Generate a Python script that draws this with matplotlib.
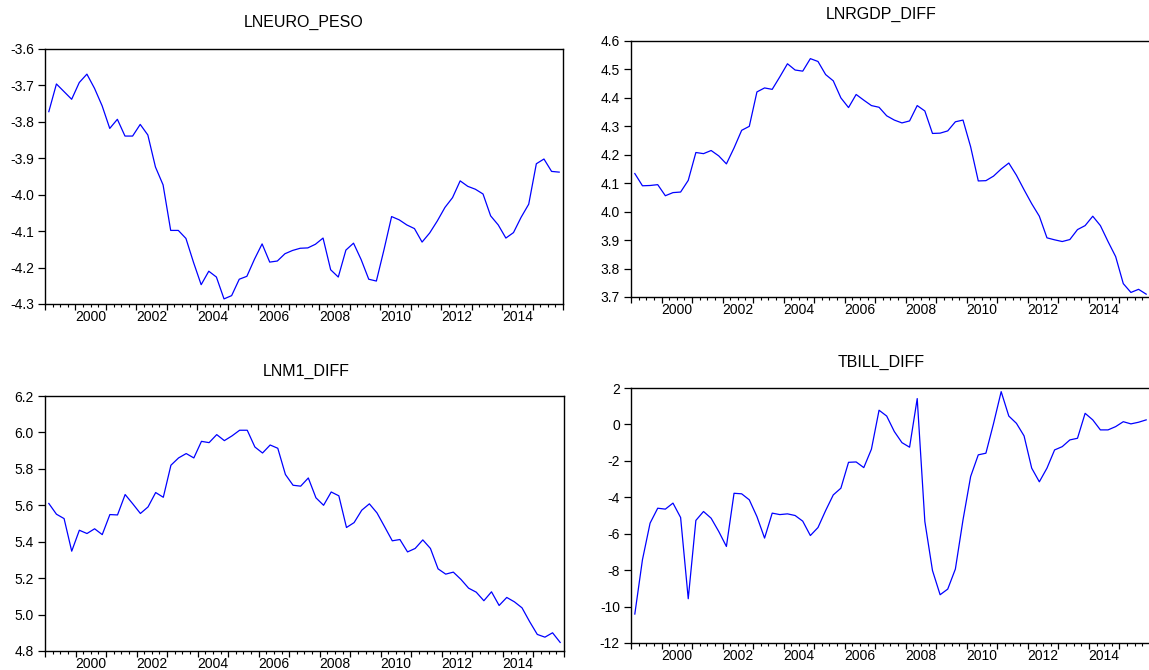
import matplotlib
matplotlib.use("Agg")
import matplotlib.pyplot as plt
import numpy as np
import pandas as pd

plt.rcParams['font.family'] = ['Liberation Sans', 'DejaVu Sans']

# quarterly sample 1999Q1 - 2015Q4
quarters = pd.period_range('1999Q1', '2015Q4', freq='Q')
t = quarters.year + (quarters.quarter - 0.5) / 4.0

lneuro_peso = [-3.772, -3.696, -3.717, -3.738, -3.692, -3.669, -3.708, -3.756,
               -3.818, -3.793, -3.839, -3.839, -3.807, -3.836, -3.924, -3.973,
               -4.098, -4.098, -4.120, -4.186, -4.247, -4.210, -4.226, -4.286,
               -4.277, -4.232, -4.224, -4.177, -4.135, -4.185, -4.182, -4.162,
               -4.153, -4.147, -4.146, -4.136, -4.119, -4.206, -4.226, -4.152,
               -4.133, -4.178, -4.232, -4.237, -4.151, -4.060, -4.069, -4.083,
               -4.093, -4.130, -4.105, -4.072, -4.035, -4.008, -3.962, -3.977,
               -3.985, -3.998, -4.058, -4.083, -4.119, -4.104, -4.062, -4.026,
               -3.915, -3.902, -3.936, -3.938]

lnrgdp_diff = [4.134, 4.091, 4.092, 4.095, 4.056, 4.067, 4.069, 4.110,
               4.208, 4.204, 4.215, 4.196, 4.168, 4.224, 4.286, 4.300,
               4.421, 4.435, 4.430, 4.474, 4.520, 4.498, 4.494, 4.538,
               4.528, 4.482, 4.460, 4.400, 4.366, 4.412, 4.392, 4.373,
               4.367, 4.337, 4.322, 4.312, 4.319, 4.373, 4.354, 4.275,
               4.276, 4.284, 4.316, 4.322, 4.228, 4.108, 4.109, 4.125,
               4.150, 4.171, 4.128, 4.077, 4.028, 3.984, 3.908, 3.901,
               3.895, 3.902, 3.937, 3.951, 3.984, 3.951, 3.895, 3.842,
               3.747, 3.716, 3.727, 3.710]

lnm1_diff = [5.610, 5.551, 5.527, 5.348, 5.463, 5.445, 5.471, 5.439,
             5.549, 5.547, 5.659, 5.608, 5.555, 5.591, 5.670, 5.644,
             5.820, 5.860, 5.884, 5.860, 5.951, 5.944, 5.988, 5.955,
             5.981, 6.012, 6.012, 5.920, 5.887, 5.931, 5.913, 5.769,
             5.710, 5.705, 5.750, 5.641, 5.600, 5.673, 5.652, 5.478,
             5.505, 5.573, 5.608, 5.558, 5.482, 5.405, 5.412, 5.344,
             5.363, 5.410, 5.363, 5.251, 5.222, 5.233, 5.193, 5.145,
             5.123, 5.076, 5.125, 5.050, 5.094, 5.070, 5.037, 4.961,
             4.891, 4.876, 4.900, 4.847]

tbill_diff = [-10.41, -7.43, -5.42, -4.60, -4.65, -4.32, -5.11, -9.57,
              -5.27, -4.78, -5.15, -5.88, -6.70, -3.78, -3.81, -4.14,
              -5.06, -6.24, -4.87, -4.95, -4.91, -5.00, -5.31, -6.10,
              -5.66, -4.73, -3.87, -3.50, -2.08, -2.06, -2.37, -1.36,
              0.78, 0.46, -0.39, -1.00, -1.25, 1.42, -5.33, -8.02,
              -9.35, -9.04, -7.94, -5.24, -2.86, -1.67, -1.58, 0.05,
              1.80, 0.46, 0.06, -0.63, -2.40, -3.15, -2.40, -1.40,
              -1.22, -0.85, -0.76, 0.61, 0.25, -0.30, -0.30, -0.12,
              0.15, 0.03, 0.12, 0.25]

titles = ['LNEURO_PESO', 'LNRGDP_DIFF', 'LNM1_DIFF', 'TBILL_DIFF']
series = [lneuro_peso, lnrgdp_diff, lnm1_diff, tbill_diff]
yticks = [np.round(np.arange(-4.3, -3.55, 0.1), 1),
          np.round(np.arange(3.7, 4.65, 0.1), 1),
          np.round(np.arange(4.8, 6.25, 0.2), 1),
          np.arange(-12, 3, 2)]
yfmt = ['{:.1f}', '{:.1f}', '{:.1f}', '{:d}']
year_labels = list(range(2000, 2015, 2))

W, H = 1149, 670
# panel boxes in pixels: left, right, top, bottom ; title position
boxes = [(45, 563, 49, 304), (631, 1150, 41, 297),
         (45, 564, 396, 651), (631, 1150, 388, 643)]
title_pos = [(304, 22), (881, 14), (306, 371), (881, 362)]

fig = plt.figure(figsize=(W / 100, H / 100), dpi=100)

for k in range(4):
    l, r, top, b = boxes[k]
    ax = fig.add_axes([l / W, 1 - b / H, (r - l) / W, (b - top) / H])
    ax.plot(t, series[k], color='#0000ff', lw=0.9)
    ax.set_xlim(1999, 2016)
    ax.set_ylim(yticks[k][0], yticks[k][-1])
    ax.set_yticks(yticks[k])
    ax.set_yticklabels([yfmt[k].format(v) for v in yticks[k]])
    ax.set_xticks(np.arange(1999, 2017))
    ax.set_xticks(np.arange(1999, 2016.01, 0.25), minor=True)
    ax.set_xticklabels([])
    ax.tick_params(axis='y', direction='out', length=5, width=0.9,
                   labelsize=10, pad=3, right=False)
    ax.tick_params(axis='x', which='major', direction='out', length=4,
                   width=0.9, top=False)
    ax.tick_params(axis='x', which='minor', direction='out', length=2.3,
                   width=0.8, top=False)
    for sp in ax.spines.values():
        sp.set_linewidth(1.0)
    sec = ax.secondary_xaxis('bottom')
    sec.set_xticks([y + 0.5 for y in year_labels])
    sec.set_xticklabels([str(y) for y in year_labels])
    sec.tick_params(length=0, labelsize=10, pad=4)
    sec.spines['bottom'].set_visible(False)
    fig.text(title_pos[k][0] / W, 1 - title_pos[k][1] / H, titles[k],
             ha='center', va='center', fontsize=11.5)

fig.savefig('out.png', dpi=100)
